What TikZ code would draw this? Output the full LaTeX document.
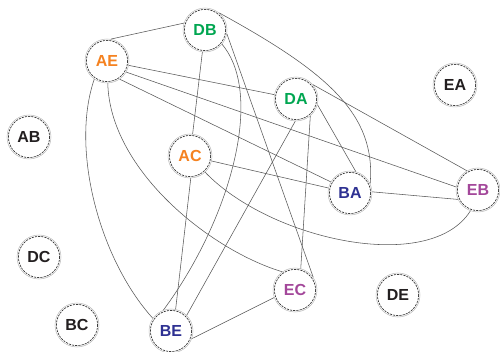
\documentclass[tikz,border=0pt]{standalone}
\usepackage{fontspec}
\setmainfont{Liberation Sans}
\begin{document}
\begin{tikzpicture}[x=1pt,y=-1pt,
  vtx/.style={circle,minimum size=44pt,inner sep=0pt,draw=gray!55,line width=0.5pt,
    font=\fontsize{16}{16}\selectfont\bfseries},
  ring/.style={draw=black!85,line width=0.6pt,dash pattern=on 2.2pt off 1pt},
  edge/.style={draw=black!65,line width=0.55pt}]
\definecolor{corange}{HTML}{F58220}
\definecolor{cgreen}{HTML}{00A651}
\definecolor{cblue}{HTML}{2E3192}
\definecolor{cmag}{HTML}{A3479A}
\definecolor{cblack}{HTML}{231F20}
\useasboundingbox (0,0) rectangle (500,352);
\fill[white] (0,0) rectangle (500,352);
% nodes
\node[vtx,text=cgreen]  (DB) at (205,30)  {DB};
\node[vtx,text=corange] (AE) at (107,61)  {AE};
\node[vtx,text=cblack]  (EA) at (455,85)  {EA};
\node[vtx,text=cgreen]  (DA) at (296,99)  {DA};
\node[vtx,text=cblack]  (AB) at (29,137)  {AB};
\node[vtx,text=corange] (AC) at (190,156) {AC};
\node[vtx,text=cblue]   (BA) at (350,193) {BA};
\node[vtx,text=cmag]    (EB) at (478,190) {EB};
\node[vtx,text=cblack]  (DC) at (39,257)  {DC};
\node[vtx,text=cmag]    (EC) at (295,290) {EC};
\node[vtx,text=cblack]  (DE) at (398,295) {DE};
\node[vtx,text=cblack]  (BC) at (77,325)  {BC};
\node[vtx,text=cblue]   (BE) at (171,331) {BE};
\foreach \n in {DB,AE,EA,DA,AB,AC,BA,EB,DC,EC,DE,BC,BE}
  \draw[ring] (\n.center) circle (20.6);
% straight edges
\draw[edge] (AE.80) -- (DB.162);
\draw[edge] (AE) -- (DA);
\draw[edge] (AE.-30) -- (EB.172);
\draw[edge] (AE.-55) -- (BA.150);
\draw[edge] (AC) -- (DB);
\draw[edge] (AC) -- (BA);
\draw[edge] (AC.-88) -- (BE.78);
\draw[edge] (DB.-10) -- (EC.35);
\draw[edge] (DA.-15) -- (BA.75);
\draw[edge] (DA.40) -- (EB.120);
\draw[edge] (DA.-50) -- (EC.75);
\draw[edge] (DA.-92) -- (BE.45);
\draw[edge] (BA.3) -- (EB.205);
\draw[edge] (BE.-20) -- (EC.200);
% curved edges
\draw[edge] (AE.235) .. controls (70,150) and (100,260) .. (BE.145);
\draw[edge] (AE.-88) .. controls (110,170) and (210,250) .. (EC.125);
\draw[edge] (AC.-47) .. controls (270,240) and (430,275) .. (EB.250);
\draw[edge] (DB.50) .. controls (329,73) and (376,115) .. (BA.25);
\draw[edge] (DB.-40) .. controls (265,95) and (230,220) .. (BE.110);
\end{tikzpicture}
\end{document}
